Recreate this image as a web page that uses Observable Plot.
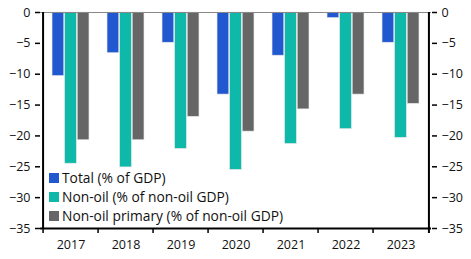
<!DOCTYPE html>
<html>
<head>
<meta charset="utf-8">
<script src="https://cdn.jsdelivr.net/npm/d3@7"></script>
<script src="https://cdn.jsdelivr.net/npm/@observablehq/plot@0.6"></script>
<style>
  html, body { margin: 0; padding: 0; background: #fff; }
  #wrap { position: relative; width: 471px; height: 259px; font-family: "Open Sans", sans-serif; }
  .legend { position: absolute; left: 49px; top: 168px; font-size: 13.8px; color: #111; line-height: 19px; }
  .legend div { display: flex; align-items: center; white-space: nowrap; }
  .legend span.sw { display: inline-block; width: 10px; height: 10px; margin-right: 3px; }
</style>
</head>
<body>
<div id="wrap"></div>
<script>
const years = ["2017", "2018", "2019", "2020", "2021", "2022", "2023"];
const seriesNames = ["Total (% of GDP)", "Non-oil (% of non-oil GDP)", "Non-oil primary (% of non-oil GDP)"];
const total = [-10.3, -6.6, -4.9, -13.3, -7.0, -0.9, -4.9];
const nonOil = [-24.5, -25.1, -22.1, -25.5, -21.3, -18.9, -20.3];
const nonOilPrimary = [-20.7, -20.7, -16.9, -19.3, -15.7, -13.3, -14.8];
const yTicks = [0, -5, -10, -15, -20, -25, -30, -35];
const colors = ["#2157cf", "#0fb9a9", "#666666"];

const W = 471, H = 259, mL = 40, mR = 40, mT = 12, mB = 31;
const bw = (W - mL - mR) / years.length;
const barW = 12.6;
const gap = (bw - 3 * barW) / 2;

const allSeries = [total, nonOil, nonOilPrimary];
const marks = [];
allSeries.forEach((vals, s) => {
  const data = years.map((y, i) => ({year: y, value: vals[i]}));
  marks.push(Plot.barY(data, {
    x: "year", y: "value",
    fill: colors[s],
    stroke: "#e6e6e6", strokeWidth: 0.6,
    insetLeft: gap + s * barW,
    insetRight: bw - gap - (s + 1) * barW
  }));
});

const last = years[years.length - 1];

const plot = Plot.plot({
  width: W, height: H,
  marginLeft: mL, marginRight: mR, marginTop: mT, marginBottom: mB,
  style: {fontFamily: "Open Sans, sans-serif", fontSize: "12.5px", color: "#111"},
  x: {domain: years, padding: 0, label: null},
  y: {domain: [-35, 0], label: null},
  marks: [
    ...marks,
    Plot.ruleY([0], {stroke: "#888", strokeWidth: 1.2}),
    Plot.ruleY([-35], {stroke: "#000", strokeWidth: 2}),
    Plot.ruleX([years[0]], {x: d => d, dx: -bw / 2, y1: 0, y2: -35, insetBottom: -1, stroke: "#000", strokeWidth: 2}),
    Plot.ruleX([last], {x: d => d, dx: bw / 2, y1: 0, y2: -35, insetBottom: -5, stroke: "#000", strokeWidth: 2}),
    Plot.axisY({anchor: "left", ticks: yTicks, tickSize: 5, tickPadding: 5, stroke: "#000", strokeWidth: 1.5, label: null, fontSize: 12.5}),
    Plot.axisY({anchor: "right", ticks: yTicks, tickSize: 5, tickPadding: 5, stroke: "#000", strokeWidth: 1.5, label: null, fontSize: 12.5}),
    Plot.axisX({tickSize: 0, tickPadding: 12, label: null, fontSize: 12.5}),
    Plot.ruleX(years, {x: d => d, dx: -bw / 2, y1: -35, y2: -35, insetBottom: -5, stroke: "#000", strokeWidth: 1.5})
  ]
});

const wrap = document.getElementById("wrap");
wrap.appendChild(plot);

const legend = document.createElement("div");
legend.className = "legend";
seriesNames.forEach((name, i) => {
  const row = document.createElement("div");
  const sw = document.createElement("span");
  sw.className = "sw";
  sw.style.background = colors[i];
  row.appendChild(sw);
  row.appendChild(document.createTextNode(name));
  legend.appendChild(row);
});
wrap.appendChild(legend);
</script>
</body>
</html>
